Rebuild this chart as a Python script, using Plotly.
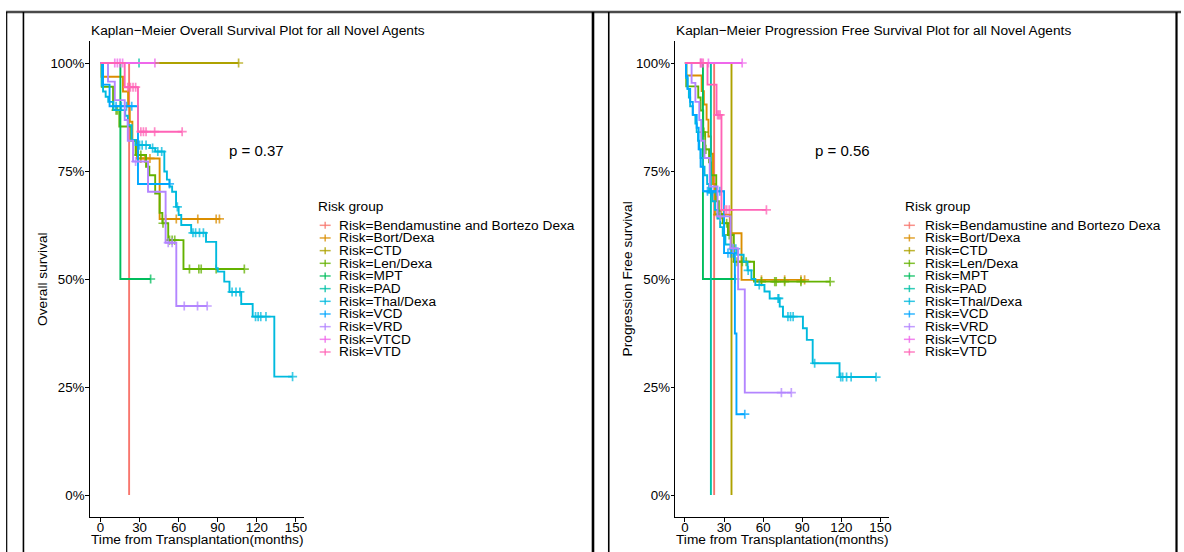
import numpy as np
import plotly.graph_objects as go

W, H = 1184, 552
FONT = "Liberation Sans, Arial, sans-serif"

groups = ["Bendamustine and Bortezo Dexa", "Bort/Dexa", "CTD", "Len/Dexa", "MPT",
          "PAD", "Thal/Dexa", "VCD", "VRD", "VTCD", "VTD"]
colors = ["#F8766D", "#DB8E00", "#AEA200", "#64B200", "#00BD5C", "#00C1A7",
          "#00BADE", "#00A6FF", "#B385FF", "#EF67EB", "#FF63B6"]

x_ticks = [0, 30, 60, 90, 120, 150]
y_ticks = [0, 0.25, 0.5, 0.75, 1.0]
y_tick_labels = ["0%", "25%", "50%", "75%", "100%"]

# ---- Overall survival: event times (months), survival after each event, censor times
os_event_t = {
    "Bendamustine and Bortezo Dexa": [22.0],
    "Bort/Dexa": [0.8, 17.3, 21.2, 22.5, 24.5, 28.0, 45.4],
    "CTD": [],
    "Len/Dexa": [1.0, 9.7, 14.5, 23.5, 27.0, 35.0, 37.5, 42.0, 45.4, 47.5, 52.0, 63.7],
    "MPT": [15.3],
    "PAD": [],
    "Thal/Dexa": [1.0, 2.0, 4.0, 6.0, 10.0, 19.0, 21.0, 24.0, 27.0, 38.0, 42.0, 49.0, 51.0,
                  53.0, 55.0, 58.0, 60.0, 62.0, 69.6, 81.0, 88.8, 90.0, 95.0, 99.0, 108.0,
                  116.8, 133.4],
    "VCD": [2.0, 7.0, 28.8],
    "VRD": [5.8, 11.0, 18.6, 21.0, 25.0, 36.5, 50.0, 58.2],
    "VTCD": [],
    "VTD": [18.6, 28.8],
}
os_surv = {
    "Bendamustine and Bortezo Dexa": [0.0],
    "Bort/Dexa": [0.968, 0.934, 0.899, 0.864, 0.822, 0.779, 0.639],
    "CTD": [],
    "Len/Dexa": [0.945, 0.891, 0.853, 0.82, 0.787, 0.76, 0.74, 0.698, 0.653, 0.629, 0.59, 0.523],
    "MPT": [0.5],
    "PAD": [],
    "Thal/Dexa": [0.947, 0.934, 0.922, 0.91, 0.891, 0.878, 0.856, 0.822, 0.81, 0.803, 0.795,
                  0.749, 0.73, 0.714, 0.702, 0.667, 0.648, 0.625, 0.607, 0.586, 0.525, 0.517,
                  0.494, 0.47, 0.442, 0.413, 0.274],
    "VCD": [0.95, 0.90, 0.72],
    "VRD": [0.957, 0.914, 0.868, 0.82, 0.772, 0.702, 0.584, 0.4375],
    "VTCD": [],
    "VTD": [0.944, 0.841],
}
os_censor_t = {
    "Bendamustine and Bortezo Dexa": [],
    "Bort/Dexa": [31.0, 34.0, 38.0, 50.0, 58.2, 74.7, 88.8, 91.3],
    "CTD": [106.0],
    "Len/Dexa": [12.0, 13.0, 29.0, 31.0, 48.0, 53.0, 55.0, 57.0, 68.3, 75.5, 77.3, 88.8, 110.4],
    "MPT": [38.5],
    "PAD": [29.6],
    "Thal/Dexa": [30.0, 32.0, 35.0, 40.0, 44.0, 47.0, 59.0, 71.0, 73.0, 76.0, 79.0, 101.0,
                  104.0, 107.0, 119.0, 121.0, 123.0, 127.0, 147.4],
    "VCD": [12.0, 16.0, 20.0, 24.0, 53.0],
    "VRD": [27.0, 52.0, 55.0, 64.3, 74.5, 81.9],
    "VTCD": [11.0, 13.0, 15.0, 17.0, 41.8],
    "VTD": [21.0, 23.0, 25.0, 27.0, 31.0, 33.0, 35.0, 41.6, 62.7],
}

# ---- Progression free survival
pfs_event_t = {
    "Bendamustine and Bortezo Dexa": [22.4],
    "Bort/Dexa": [1.0, 12.8, 14.5, 16.6, 18.0, 20.0, 21.5, 23.0, 34.4, 43.4],
    "CTD": [35.7],
    "Len/Dexa": [1.0, 10.2, 12.0, 14.0, 15.5, 18.5, 20.0, 24.0, 26.0, 29.0, 33.0, 37.5, 53.0],
    "MPT": [13.8],
    "PAD": [19.9],
    "Thal/Dexa": [1.0, 2.0, 3.0, 4.0, 6.0, 8.0, 9.0, 10.0, 11.0, 12.0, 13.5, 15.0, 17.0, 18.5,
                  21.0, 23.0, 25.0, 27.0, 29.0, 31.0, 35.0, 40.0, 45.0, 48.0, 51.0, 54.0, 61.0,
                  65.0, 72.7, 75.2, 90.5, 93.5, 98.0, 118.6],
    "VCD": [0.8, 2.0, 4.0, 6.0, 9.0, 10.5, 12.0, 14.0, 30.0, 38.3, 39.5],
    "VRD": [5.1, 8.0, 11.0, 12.5, 15.0, 19.0, 25.0, 35.0, 40.8, 45.9],
    "VTCD": [],
    "VTD": [17.3, 24.2, 28.0],
}
pfs_surv = {
    "Bendamustine and Bortezo Dexa": [0.0],
    "Bort/Dexa": [0.971, 0.935, 0.904, 0.869, 0.83, 0.79, 0.72, 0.649, 0.606, 0.498],
    "CTD": [0.0],
    "Len/Dexa": [0.946, 0.92, 0.89, 0.84, 0.80, 0.77, 0.74, 0.68, 0.65, 0.629, 0.602, 0.54, 0.494],
    "MPT": [0.5],
    "PAD": [0.0],
    "Thal/Dexa": [0.965, 0.94, 0.92, 0.90, 0.88, 0.86, 0.84, 0.82, 0.80, 0.78, 0.76, 0.74, 0.72,
                  0.70, 0.68, 0.66, 0.64, 0.62, 0.60, 0.58, 0.57, 0.556, 0.54, 0.52, 0.50, 0.486,
                  0.471, 0.455, 0.436, 0.413, 0.386, 0.359, 0.305, 0.273],
    "VCD": [0.97, 0.94, 0.91, 0.88, 0.85, 0.80, 0.76, 0.703, 0.56, 0.374, 0.187],
    "VRD": [0.954, 0.91, 0.868, 0.82, 0.78, 0.714, 0.645, 0.571, 0.476, 0.237],
    "VTCD": [],
    "VTD": [0.95, 0.88, 0.66],
}
pfs_censor_t = {
    "Bendamustine and Bortezo Dexa": [],
    "Bort/Dexa": [25.0, 28.0, 58.7, 76.5, 89.0, 91.8],
    "CTD": [],
    "Len/Dexa": [14.5, 16.0, 27.0, 30.0, 32.0, 34.0, 40.0, 44.0, 47.0, 58.7, 68.9, 70.0,
                 76.5, 89.0, 111.4],
    "MPT": [38.3],
    "PAD": [],
    "Thal/Dexa": [20.0, 37.0, 39.0, 48.5, 57.0, 71.4, 72.0, 79.0, 81.0, 83.0, 99.5, 119.5,
                  121.0, 124.0, 127.5, 146.6],
    "VCD": [17.3, 20.4, 24.2, 26.8, 33.0, 35.0, 37.0, 45.9],
    "VRD": [27.0, 37.0, 74.0, 81.6],
    "VTCD": [12.0, 13.0, 18.0, 43.9],
    "VTD": [12.0, 14.0, 25.0, 26.0, 27.0, 30.6, 32.0, 34.0, 62.5],
}

fig = go.Figure()


def km_traces(event_t, surv, censor_t, xa, ya):
    for g, col in zip(groups, colors):
        ev = list(event_t[g])
        sv = list(surv[g])
        cs = list(censor_t[g])
        end = max(ev + cs) if (ev + cs) else 0.0
        last = sv[-1] if sv else 1.0
        xs = [0.0] + ev + [end]
        ys = [1.0] + sv + [last]
        fig.add_trace(go.Scatter(x=xs, y=ys, mode="lines", line=dict(color=col, width=1.9, shape="hv"),
                                 xaxis=xa, yaxis=ya, showlegend=False, hoverinfo="skip"))
        if cs:
            idx = np.searchsorted(np.array(ev), np.array(cs), side="right") - 1
            cy = [1.0 if i < 0 else sv[i] for i in idx]
            fig.add_trace(go.Scatter(x=cs, y=cy, mode="markers",
                                     marker=dict(symbol="cross-thin", size=6.5, opacity=0.75,
                                                 line=dict(color=col, width=1.7)),
                                     xaxis=xa, yaxis=ya, showlegend=False, hoverinfo="skip"))


km_traces(os_event_t, os_surv, os_censor_t, "x", "y")
km_traces(pfs_event_t, pfs_surv, pfs_censor_t, "x2", "y2")


def px(x):
    return x / W


def py(y):
    return 1 - y / H


axis_font = dict(family=FONT, size=13.3, color="black")
y_dom = [py(517.0), py(41.4)]
y_rng = [-22.0 / 432, (495 - 41.4) / 432]
common_x = dict(showgrid=False, zeroline=False, showline=True, linecolor="black", linewidth=1.3,
                ticks="outside", ticklen=3.5, tickwidth=1.2, tickcolor="black",
                tickvals=x_ticks, tickfont=axis_font, ticklabelstandoff=-6)
common_y = dict(showgrid=False, zeroline=False, showline=True, linecolor="black", linewidth=1.3,
                ticks="outside", ticklen=3.5, tickwidth=1.2, tickcolor="black",
                tickvals=y_ticks, ticktext=y_tick_labels, tickfont=axis_font, ticklabelstandoff=-2,
                range=y_rng, domain=y_dom)
k = 196.0 / 150.0
fig.update_layout(
    xaxis=dict(common_x, domain=[px(90), px(305)], range=[(90 - 100.7) / k, (305 - 100.7) / k], anchor="y"),
    yaxis=dict(common_y, anchor="x"),
    xaxis2=dict(common_x, domain=[px(677), px(891.7)], range=[(677 - 686.7) / k, (891.7 - 686.7) / k],
                anchor="y2"),
    yaxis2=dict(common_y, anchor="x2"),
)

annotations = []
shapes = []


def text(x, y, s, size, xanchor="left", angle=0):
    annotations.append(dict(x=px(x), y=py(y), xref="paper", yref="paper", text=s, showarrow=False,
                            xanchor=xanchor, yanchor="middle", textangle=angle, borderpad=0,
                            font=dict(family=FONT, size=size, color="black")))


panels = [
    dict(x0=90, title="Kaplan\u2212Meier Overall Survival Plot for all Novel Agents",
         ytitle="Overall survival", ytx=42, p="p = 0.37", pcx=257.3, xc=197.5,
         key_x=326, txt_x=339.3, lt_x=318.3),
    dict(x0=677, title="Kaplan\u2212Meier Progression Free Survival Plot for all Novel Agents",
         ytitle="Progression Free survival", ytx=629, p="p = 0.56", pcx=845, xc=784.3,
         key_x=911.7, txt_x=926, lt_x=906),
]
for p in panels:
    text(p["x0"], 30.7, p["title"], 13.7)
    text(p["ytx"], 279, p["ytitle"], 13.7, xanchor="center", angle=-90)
    text(p["xc"], 539.8, "Time from Transplantation(months)", 13.7, xanchor="center")
    text(p["pcx"], 150.5, p["p"], 15, xanchor="center")
    text(p["lt_x"], 206.7, "Risk group", 13.7)
    for i, (g, col) in enumerate(zip(groups, colors)):
        yy = 225.3 + i * 12.67
        text(p["txt_x"], yy, "Risk=" + g, 13.7)
        shapes.append(dict(type="line", xref="paper", yref="paper", x0=px(p["key_x"] - 5.5),
                           x1=px(p["key_x"] + 5.5), y0=py(yy), y1=py(yy),
                           line=dict(color=col, width=1.5), opacity=0.8))
        shapes.append(dict(type="line", xref="paper", yref="paper", x0=px(p["key_x"]),
                           x1=px(p["key_x"]), y0=py(yy - 3.5), y1=py(yy + 3.5),
                           line=dict(color=col, width=1.5), opacity=0.8))

# page frame lines
shapes.append(dict(type="line", xref="paper", yref="paper", x0=px(6), x1=1, y0=py(12), y1=py(12),
                   line=dict(color="#4a4a4a", width=2.5)))
for xv, wv in [(6.7, 1.2), (23.5, 1.6), (594.5, 2.6), (610.3, 1.6), (1179.5, 2.2)]:
    shapes.append(dict(type="line", xref="paper", yref="paper", x0=px(xv), x1=px(xv),
                       y0=py(12), y1=0, line=dict(color="black", width=wv)))

fig.update_layout(
    width=W, height=H, autosize=False,
    margin=dict(l=0, r=0, t=0, b=0),
    paper_bgcolor="white", plot_bgcolor="white",
    showlegend=False,
    annotations=annotations, shapes=shapes,
    font=dict(family=FONT),
)

fig.write_html("out.html")
